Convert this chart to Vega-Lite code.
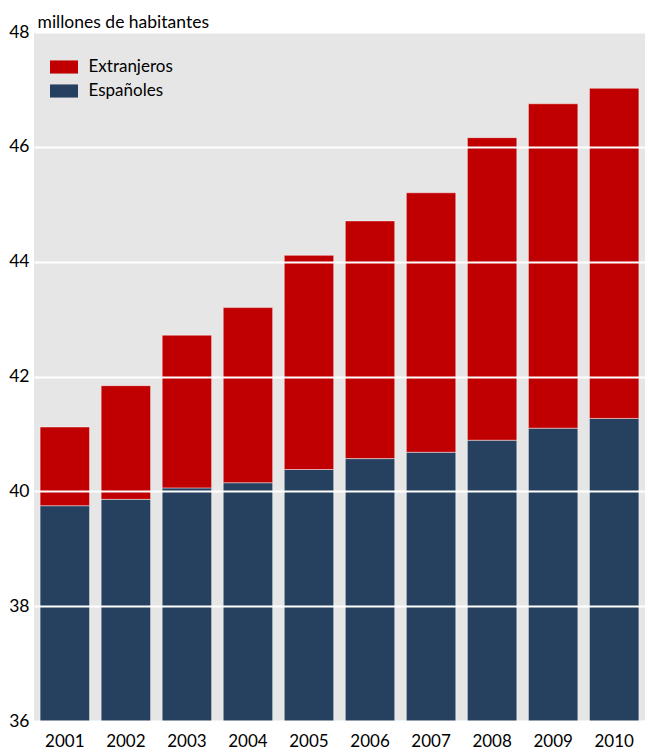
{
  "$schema": "https://vega.github.io/schema/vega-lite/v6.json",
  "width": 611,
  "height": 689,
  "autosize": {"type": "none"},
  "padding": {"left": 34, "top": 32, "right": 0, "bottom": 30},
  "background": "white",
  "config": {
    "font": "Lato",
    "view": {"fill": "#e6e6e6", "stroke": null}
  },
  "data": {
    "values": [
      {"year": "2001", "grupo": "Españoles", "millones": 39.75},
      {"year": "2001", "grupo": "Extranjeros", "millones": 1.37},
      {"year": "2002", "grupo": "Españoles", "millones": 39.86},
      {"year": "2002", "grupo": "Extranjeros", "millones": 1.98},
      {"year": "2003", "grupo": "Españoles", "millones": 40.06},
      {"year": "2003", "grupo": "Extranjeros", "millones": 2.66},
      {"year": "2004", "grupo": "Españoles", "millones": 40.15},
      {"year": "2004", "grupo": "Extranjeros", "millones": 3.05},
      {"year": "2005", "grupo": "Españoles", "millones": 40.38},
      {"year": "2005", "grupo": "Extranjeros", "millones": 3.73},
      {"year": "2006", "grupo": "Españoles", "millones": 40.57},
      {"year": "2006", "grupo": "Extranjeros", "millones": 4.14},
      {"year": "2007", "grupo": "Españoles", "millones": 40.68},
      {"year": "2007", "grupo": "Extranjeros", "millones": 4.52},
      {"year": "2008", "grupo": "Españoles", "millones": 40.89},
      {"year": "2008", "grupo": "Extranjeros", "millones": 5.27},
      {"year": "2009", "grupo": "Españoles", "millones": 41.10},
      {"year": "2009", "grupo": "Extranjeros", "millones": 5.65},
      {"year": "2010", "grupo": "Españoles", "millones": 41.27},
      {"year": "2010", "grupo": "Extranjeros", "millones": 5.75}
    ]
  },
  "mark": {"type": "bar", "clip": true, "stroke": "#ffffff", "strokeOpacity": 0.45, "strokeWidth": 1},
  "encoding": {
    "x": {
      "field": "year",
      "type": "ordinal",
      "scale": {"paddingInner": 0.19, "paddingOuter": 0.1},
      "axis": {
        "title": null,
        "labelAngle": 0,
        "labelFontSize": 17,
        "labelColor": "#000000",
        "labelPadding": 12,
        "domain": false,
        "ticks": false
      }
    },
    "y": {
      "field": "millones",
      "type": "quantitative",
      "stack": "zero",
      "scale": {"domain": [36, 48], "nice": false, "zero": false},
      "axis": {
        "values": [36, 38, 40, 42, 44, 46, 48],
        "title": "millones de habitantes",
        "titleAngle": 0,
        "titleAlign": "left",
        "titleBaseline": "alphabetic",
        "titleX": 3,
        "titleY": -5,
        "titleFontSize": 17.5,
        "titleFontWeight": "normal",
        "titleColor": "#000000",
        "labelFontSize": 17.5,
        "labelColor": "#000000",
        "labelPadding": 5,
        "domain": false,
        "ticks": false,
        "grid": true,
        "gridColor": "#ffffff",
        "gridWidth": 2,
        "gridOpacity": 1,
        "zindex": 1
      }
    },
    "order": {"field": "grupo", "type": "nominal", "sort": "ascending"},
    "color": {
      "field": "grupo",
      "type": "nominal",
      "scale": {"domain": ["Extranjeros", "Españoles"], "range": ["#c00000", "#264060"]},
      "legend": {
        "title": null,
        "orient": "none",
        "legendX": 21,
        "legendY": 26,
        "symbolType": "M-1.6,-0.75H1.6V0.75H-1.6Z",
        "symbolSize": 306,
        "symbolStrokeWidth": 0,
        "labelFontSize": 17,
        "labelColor": "#000000",
        "labelOffset": 15.5,
        "rowPadding": 7
      }
    }
  }
}
